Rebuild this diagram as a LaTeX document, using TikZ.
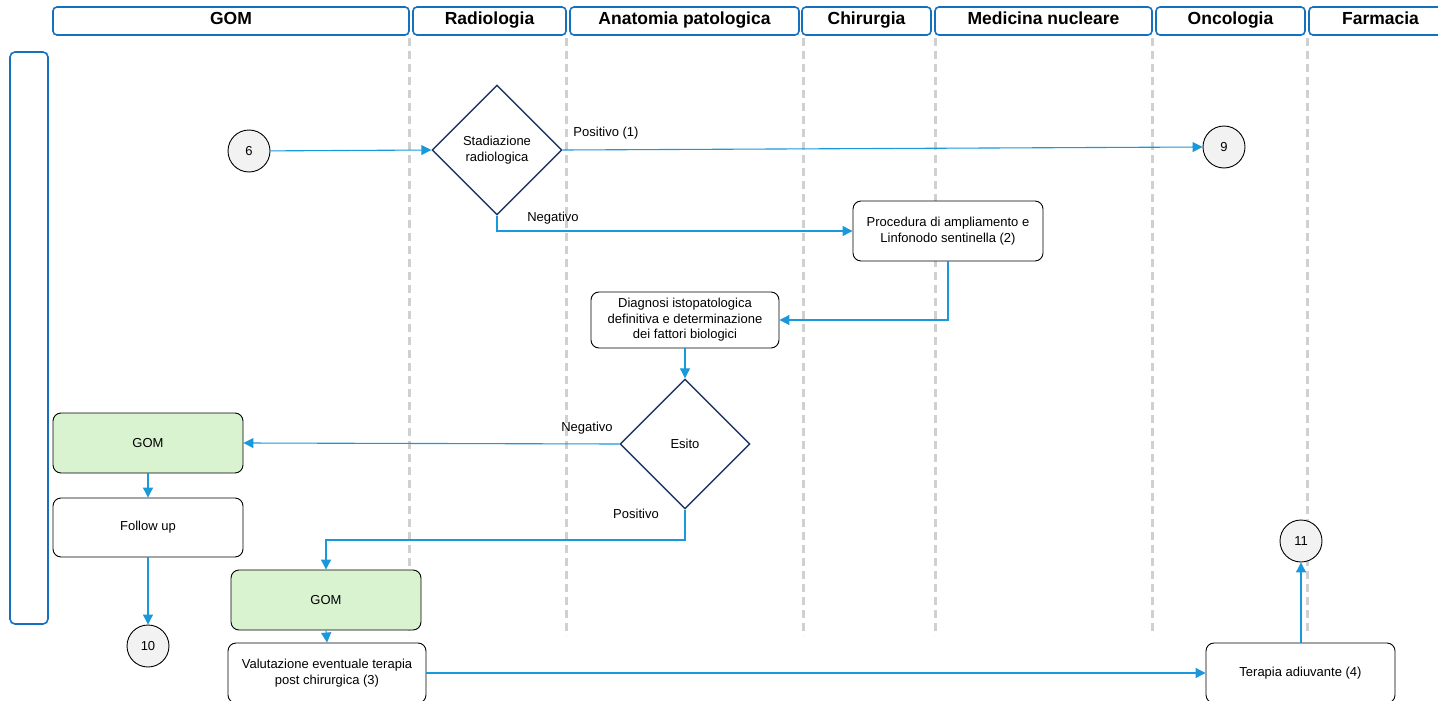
\documentclass[tikz,border=0pt]{standalone}
\usepackage{fontspec}
\setmainfont{Liberation Sans}
\usetikzlibrary{arrows.meta,shapes.geometric}
\definecolor{laneblue}{RGB}{22,112,192}
\definecolor{flowblue}{RGB}{26,152,220}
\definecolor{navy}{RGB}{31,56,100}
\definecolor{gomgreen}{RGB}{217,242,208}
\definecolor{dashgray}{RGB}{208,208,208}
\definecolor{circfill}{RGB}{242,242,242}
\tikzset{
  lane/.style={draw=laneblue, line width=1.6pt, rounded corners=4pt, minimum height=28pt,
    inner sep=0pt, text depth=5pt, font=\fontsize{17.5}{19}\selectfont\bfseries},
  sep/.style={draw=dashgray, line width=3pt, dash pattern=on 8pt off 5pt},
  proc/.style={draw=black, line width=0.9pt, rounded corners=8pt, fill=white,
    font=\fontsize{13}{15.5}\selectfont, align=center, inner sep=0pt},
  gom/.style={proc, fill=gomgreen},
  dec/.style={diamond, draw=navy, line width=1.4pt, fill=white, minimum width=130pt,
    minimum height=130pt, inner sep=0pt, aspect=1, font=\fontsize{13}{15.5}\selectfont, align=center},
  conn/.style={circle, draw=black, line width=0.9pt, fill=circfill, minimum size=42pt,
    inner sep=0pt, font=\fontsize{13}{15}\selectfont},
  flow/.style={draw=flowblue, line width=1.1pt, -{Triangle[length=10pt,width=10pt]}},
  lbl/.style={font=\fontsize{13}{15}\selectfont, inner sep=0pt},
}
\begin{document}
\begin{tikzpicture}[x=1pt,y=-1pt]
\useasboundingbox (0,0) rectangle (1438,701);
\clip (0,0) rectangle (1438,701);
\fill[white] (0,0) rectangle (1438,701);

% lane separators
\foreach \x in {409,566,803,935,1152,1307}
  \draw[sep] (\x,38) -- (\x,636);

% lane headers
\node[lane, minimum width=356pt] (hgom) at (231,21) {GOM};
\node[lane, minimum width=153pt] (hrad) at (489.5,21) {Radiologia};
\node[lane, minimum width=229pt] (hana) at (684.5,21) {Anatomia patologica};
\node[lane, minimum width=129pt] (hchi) at (866.5,21) {Chirurgia};
\node[lane, minimum width=217pt] (hmed) at (1043.5,21) {Medicina nucleare};
\node[lane, minimum width=149pt] (honc) at (1230.5,21) {Oncologia};
\node[lane, minimum width=143pt] (hfar) at (1380.5,21) {Farmacia};

% side band
\node[draw=laneblue, line width=1.6pt, rounded corners=5pt, minimum width=38pt,
  minimum height=572pt, inner sep=0pt] (band) at (29,338) {};

% nodes
\node[conn] (c6) at (249,151) {6};
\node[dec] (stad) at (497,150) {Stadiazione\\radiologica};
\node[conn] (c9) at (1224,147) {9};
\node[proc, minimum width=190pt, minimum height=60pt] (proc) at (948,231)
  {Procedura di ampliamento e\\Linfonodo sentinella (2)};
\node[proc, minimum width=188pt, minimum height=56pt] (diag) at (685,320)
  {Diagnosi istopatologica\\definitiva e determinazione\\dei fattori biologici};
\node[dec] (esito) at (685,444) {Esito};
\node[gom, minimum width=190pt, minimum height=60pt] (gom1) at (148,443) {GOM};
\node[proc, minimum width=190pt, minimum height=59pt] (fu) at (148,527.5) {Follow up};
\node[conn] (c10) at (148,646) {10};
\node[gom, minimum width=190pt, minimum height=60pt] (gom2) at (326,600) {GOM};
\node[proc, minimum width=198pt, minimum height=60pt] (val) at (327,673)
  {Valutazione eventuale terapia\\post chirurgica (3)};
\node[conn] (c11) at (1301,541) {11};
\node[proc, minimum width=189pt, minimum height=60pt] (ter) at (1300.5,673) {Terapia adiuvante (4)};

% connectors
\draw[flow] (c6) -- (stad.west);
\draw[flow] (stad.east) -- (c9.west);
\draw[flow] (stad.south) |- (proc.west);
\draw[flow] (proc.south) |- (diag.east);
\draw[flow] (diag.south) -- (esito.north);
\draw[flow] (esito.west) -- (gom1.east);
\coordinate (bend) at (685,540);
\draw[flow] (esito.south) -- (bend) -| (gom2.north);
\draw[flow] (gom1.south) -- (fu.north);
\draw[flow] (fu.south) -- (c10.north);
\draw[flow] (gom2.south) -- (val.north);
\draw[flow] (val.east) -- (ter.west);
\draw[flow] (ter.north -| c11) -- (c11.south);

% connector labels
\node[lbl] (lpos1) at (606,133) {Positivo (1)};
\node[lbl] (lneg1) at (553,218) {Negativo};
\node[lbl] (lneg2) at (587,428) {Negativo};
\node[lbl] (lpos2) at (636,514) {Positivo};
\end{tikzpicture}
\end{document}
